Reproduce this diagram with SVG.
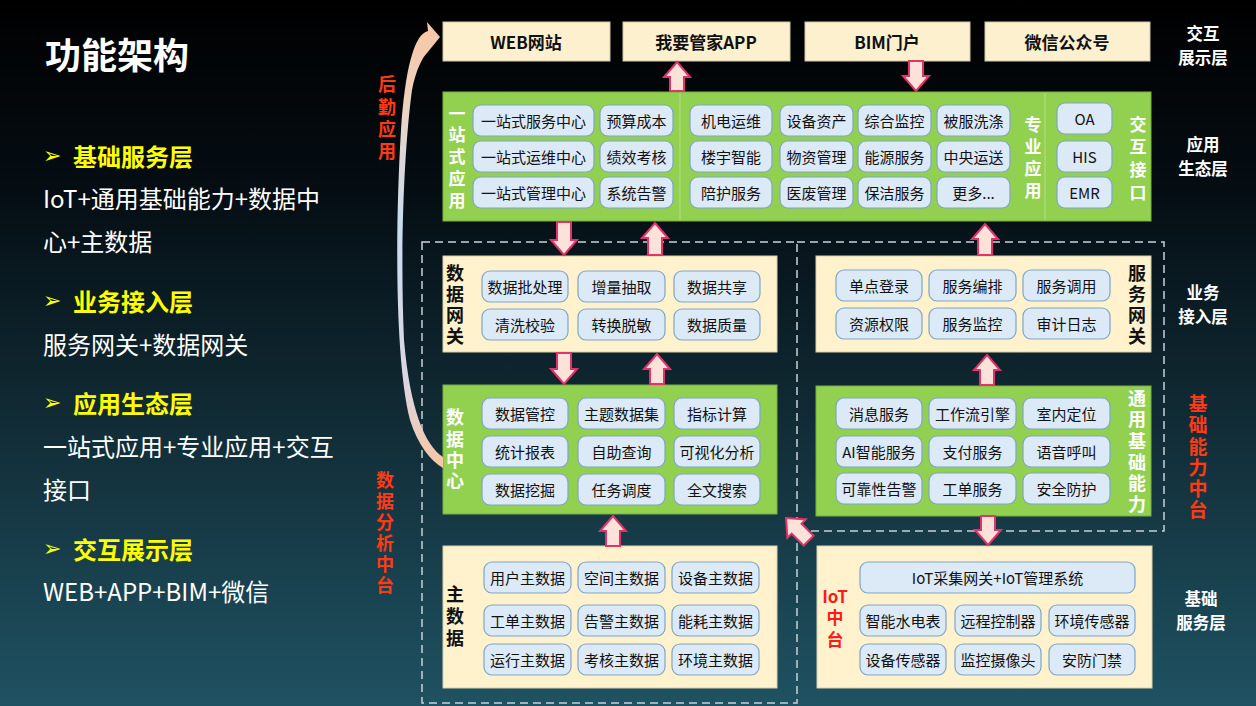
<svg xmlns="http://www.w3.org/2000/svg" width="1256" height="706" viewBox="0 0 1256 706">
<defs>
<linearGradient id="bg" x1="0" y1="0" x2="0" y2="1">
<stop offset="0" stop-color="#000000"/>
<stop offset="0.28" stop-color="#050e14"/>
<stop offset="0.6" stop-color="#112c36"/>
<stop offset="1" stop-color="#1f5262"/>
</linearGradient>
<linearGradient id="curve" gradientUnits="userSpaceOnUse" x1="0" y1="20" x2="0" y2="470">
<stop offset="0" stop-color="#f7c6a3"/>
<stop offset="0.18" stop-color="#efd2c0"/>
<stop offset="0.45" stop-color="#c9dcef"/>
<stop offset="0.8" stop-color="#dcd6e2"/>
<stop offset="1" stop-color="#f7c6a3"/>
</linearGradient>
<style>
.cream{fill:#fff2cc;stroke:#d9cfae;stroke-width:1}
.top{fill:#fdf0cf;stroke:#cfc6a8;stroke-width:1}
.green{fill:#92d050;stroke:#7bb23f;stroke-width:1}
.pill{fill:#dce9f6;stroke:#7fa5c8;stroke-width:1.2}
.pt{font-family:"Noto Sans CJK SC","Liberation Sans",sans-serif;font-size:15px;fill:#111;text-anchor:middle;dominant-baseline:central}
.tt{font-family:"Noto Sans CJK SC","Liberation Sans",sans-serif;font-size:17px;font-weight:bold;fill:#111;text-anchor:middle;dominant-baseline:central}
.v{font-family:"Noto Sans CJK SC","Liberation Sans",sans-serif;font-weight:bold;writing-mode:vertical-rl;text-anchor:middle;dominant-baseline:central}
.vw{fill:#ffffff;font-size:17px}
.vb{fill:#111;font-size:18px}
.vr{fill:#ff3a14;font-size:18px}
.iot{font-family:"Noto Sans CJK SC","Liberation Sans",sans-serif;font-size:17px;font-weight:bold;fill:#ff1a1a;text-anchor:middle;dominant-baseline:central}
.lay{font-family:"Noto Sans CJK SC","Liberation Sans",sans-serif;font-size:16.5px;font-weight:bold;fill:#ffffff;text-anchor:middle;dominant-baseline:central}
.title{font-family:"Noto Sans CJK SC","Liberation Sans",sans-serif;font-size:36px;font-weight:bold;fill:#ffffff;dominant-baseline:central}
.hd{font-family:"Noto Sans CJK SC","Liberation Sans",sans-serif;font-size:24px;font-weight:bold;fill:#ffff00;dominant-baseline:central}
.bd{font-family:"Noto Sans CJK SC","Liberation Sans",sans-serif;font-size:24px;fill:#ffffff;dominant-baseline:central}
.bul{font-family:"DejaVu Sans",sans-serif;font-size:22px;fill:#ffff00;dominant-baseline:central}
.arr{fill:#fde2da;stroke:#e4336a;stroke-width:2;stroke-linejoin:miter}
.dash{fill:none;stroke:#c9d1d6;stroke-width:1.5;stroke-dasharray:8 5}
.div{stroke:#b6e08c;stroke-width:1}
</style>
</defs>
<rect x="0" y="0" width="1256" height="706" fill="url(#bg)"/>

<g id="left-text">
<text class="title" x="45" y="53">功能架构</text>
<text class="bul" x="43" y="155">➢</text>
<text class="hd" x="73" y="155">基础服务层</text>
<text class="bd" x="43" y="197">IoT+通用基础能力+数据中</text>
<text class="bd" x="43" y="240">心+主数据</text>
<text class="bul" x="43" y="300">➢</text>
<text class="hd" x="73" y="300">业务接入层</text>
<text class="bd" x="43" y="343">服务网关+数据网关</text>
<text class="bul" x="43" y="402">➢</text>
<text class="hd" x="73" y="402">应用生态层</text>
<text class="bd" x="43" y="445">一站式应用+专业应用+交互</text>
<text class="bd" x="43" y="488">接口</text>
<text class="bul" x="43" y="548">➢</text>
<text class="hd" x="73" y="548">交互展示层</text>
<text class="bd" x="43" y="590">WEB+APP+BIM+微信</text>
</g>

<g id="side-labels">
<text class="v vr" x="387" y="120" style="letter-spacing:4.3px">后勤应用</text>
<text class="v vr" x="385" y="534" style="letter-spacing:3px">数据分析中台</text>
<text class="v vr" x="1198" y="458" style="font-size:19px;letter-spacing:2.2px">基础能力中台</text>
<text class="lay" x="1203" y="33">交互</text>
<text class="lay" x="1203" y="57">展示层</text>
<text class="lay" x="1203" y="144">应用</text>
<text class="lay" x="1203" y="168">生态层</text>
<text class="lay" x="1203" y="292">业务</text>
<text class="lay" x="1203" y="316">接入层</text>
<text class="lay" x="1201" y="598">基础</text>
<text class="lay" x="1201" y="622">服务层</text>
</g>

<g id="regions">
<path class="dash" d="M422,242 H797 V703 H422 Z"/>
<path class="dash" d="M797,242 H1164 V531 H797"/>
</g>

<g id="display-web"><rect class="top" x="443" y="22" width="167" height="39"/><text class="tt" x="526" y="41">WEB网站</text></g>
<g id="display-app"><rect class="top" x="623" y="22" width="167" height="39"/><text class="tt" x="706" y="41">我要管家APP</text></g>
<g id="display-bim"><rect class="top" x="805" y="22" width="165" height="39"/><text class="tt" x="887" y="41">BIM门户</text></g>
<g id="display-wechat"><rect class="top" x="985" y="22" width="165" height="39"/><text class="tt" x="1067" y="41">微信公众号</text></g>

<g id="app-ecology">
<rect class="green" x="443" y="92" width="708" height="129"/>
<line class="div" x1="680" y1="93" x2="680" y2="220"/>
<line class="div" x1="1045" y1="93" x2="1045" y2="220"/>
<text class="v vw" x="457" y="159" style="letter-spacing:4.7px">一站式应用</text>
<rect class="pill" x="473" y="105" width="121" height="31" rx="8"/><text class="pt" x="533.5" y="120.5">一站式服务中心</text>
<rect class="pill" x="600" y="105" width="73" height="31" rx="8"/><text class="pt" x="636.5" y="120.5">预算成本</text>
<rect class="pill" x="473" y="141" width="121" height="31" rx="8"/><text class="pt" x="533.5" y="156.5">一站式运维中心</text>
<rect class="pill" x="600" y="141" width="73" height="31" rx="8"/><text class="pt" x="636.5" y="156.5">绩效考核</text>
<rect class="pill" x="473" y="177" width="121" height="31" rx="8"/><text class="pt" x="533.5" y="192.5">一站式管理中心</text>
<rect class="pill" x="600" y="177" width="73" height="31" rx="8"/><text class="pt" x="636.5" y="192.5">系统告警</text>

<rect class="pill" x="690" y="105" width="82" height="31" rx="8"/><text class="pt" x="731" y="120.5">机电运维</text>
<rect class="pill" x="780" y="105" width="73" height="31" rx="8"/><text class="pt" x="816.5" y="120.5">设备资产</text>
<rect class="pill" x="858" y="105" width="73" height="31" rx="8"/><text class="pt" x="894.5" y="120.5">综合监控</text>
<rect class="pill" x="937" y="105" width="73" height="31" rx="8"/><text class="pt" x="973.5" y="120.5">被服洗涤</text>
<rect class="pill" x="690" y="141" width="82" height="31" rx="8"/><text class="pt" x="731" y="156.5">楼宇智能</text>
<rect class="pill" x="780" y="141" width="73" height="31" rx="8"/><text class="pt" x="816.5" y="156.5">物资管理</text>
<rect class="pill" x="858" y="141" width="73" height="31" rx="8"/><text class="pt" x="894.5" y="156.5">能源服务</text>
<rect class="pill" x="937" y="141" width="73" height="31" rx="8"/><text class="pt" x="973.5" y="156.5">中央运送</text>
<rect class="pill" x="690" y="177" width="82" height="31" rx="8"/><text class="pt" x="731" y="192.5">陪护服务</text>
<rect class="pill" x="780" y="177" width="73" height="31" rx="8"/><text class="pt" x="816.5" y="192.5">医废管理</text>
<rect class="pill" x="858" y="177" width="73" height="31" rx="8"/><text class="pt" x="894.5" y="192.5">保洁服务</text>
<rect class="pill" x="937" y="177" width="73" height="31" rx="8"/><text class="pt" x="973.5" y="192.5">更多...</text>
<text class="v vw" x="1033" y="160" style="letter-spacing:5px">专业应用</text>

<rect class="pill" x="1057" y="103" width="55" height="31" rx="8"/><text class="pt" x="1084.5" y="118.5">OA</text>
<rect class="pill" x="1057" y="141" width="55" height="31" rx="8"/><text class="pt" x="1084.5" y="156.5">HIS</text>
<rect class="pill" x="1057" y="177" width="55" height="31" rx="8"/><text class="pt" x="1084.5" y="192.5">EMR</text>
<text class="v vw" x="1138" y="161" style="letter-spacing:5.7px">交互接口</text>
</g>

<g id="data-gateway">
<rect class="cream" x="443" y="256" width="334" height="96"/>
<text class="v vb" x="455" y="306" style="letter-spacing:3px">数据网关</text>
<rect class="pill" x="482" y="271" width="86" height="31" rx="8"/><text class="pt" x="525" y="286.5">数据批处理</text>
<rect class="pill" x="578" y="271" width="87" height="31" rx="8"/><text class="pt" x="621.5" y="286.5">增量抽取</text>
<rect class="pill" x="674" y="271" width="86" height="31" rx="8"/><text class="pt" x="717" y="286.5">数据共享</text>
<rect class="pill" x="482" y="309" width="86" height="31" rx="8"/><text class="pt" x="525" y="324.5">清洗校验</text>
<rect class="pill" x="578" y="309" width="87" height="31" rx="8"/><text class="pt" x="621.5" y="324.5">转换脱敏</text>
<rect class="pill" x="674" y="309" width="86" height="31" rx="8"/><text class="pt" x="717" y="324.5">数据质量</text>
</g>

<g id="data-center">
<rect class="green" x="443" y="385" width="334" height="129"/>
<text class="v vw" x="455" y="451" style="font-size:18px;letter-spacing:3.3px">数据中心</text>
<rect class="pill" x="482" y="398" width="86" height="31" rx="8"/><text class="pt" x="525" y="413.5">数据管控</text>
<rect class="pill" x="578" y="398" width="87" height="31" rx="8"/><text class="pt" x="621.5" y="413.5">主题数据集</text>
<rect class="pill" x="674" y="398" width="86" height="31" rx="8"/><text class="pt" x="717" y="413.5">指标计算</text>
<rect class="pill" x="482" y="436" width="86" height="31" rx="8"/><text class="pt" x="525" y="451.5">统计报表</text>
<rect class="pill" x="578" y="436" width="87" height="31" rx="8"/><text class="pt" x="621.5" y="451.5">自助查询</text>
<rect class="pill" x="674" y="436" width="86" height="31" rx="8"/><text class="pt" x="717" y="451.5">可视化分析</text>
<rect class="pill" x="482" y="474" width="86" height="31" rx="8"/><text class="pt" x="525" y="489.5">数据挖掘</text>
<rect class="pill" x="578" y="474" width="87" height="31" rx="8"/><text class="pt" x="621.5" y="489.5">任务调度</text>
<rect class="pill" x="674" y="474" width="86" height="31" rx="8"/><text class="pt" x="717" y="489.5">全文搜索</text>
</g>

<g id="master-data">
<rect class="cream" x="443" y="546" width="334" height="142"/>
<text class="v vb" x="455" y="618" style="letter-spacing:4px">主数据</text>
<rect class="pill" x="484" y="562" width="87" height="31" rx="8"/><text class="pt" x="527.5" y="577.5">用户主数据</text>
<rect class="pill" x="578" y="562" width="87" height="31" rx="8"/><text class="pt" x="621.5" y="577.5">空间主数据</text>
<rect class="pill" x="672" y="562" width="87" height="31" rx="8"/><text class="pt" x="715.5" y="577.5">设备主数据</text>
<rect class="pill" x="484" y="605" width="87" height="31" rx="8"/><text class="pt" x="527.5" y="620.5">工单主数据</text>
<rect class="pill" x="578" y="605" width="87" height="31" rx="8"/><text class="pt" x="621.5" y="620.5">告警主数据</text>
<rect class="pill" x="672" y="605" width="87" height="31" rx="8"/><text class="pt" x="715.5" y="620.5">能耗主数据</text>
<rect class="pill" x="484" y="644" width="87" height="31" rx="8"/><text class="pt" x="527.5" y="659.5">运行主数据</text>
<rect class="pill" x="578" y="644" width="87" height="31" rx="8"/><text class="pt" x="621.5" y="659.5">考核主数据</text>
<rect class="pill" x="672" y="644" width="87" height="31" rx="8"/><text class="pt" x="715.5" y="659.5">环境主数据</text>
</g>

<g id="service-gateway">
<rect class="cream" x="816" y="256" width="335" height="96"/>
<text class="v vb" x="1137" y="306" style="letter-spacing:3px">服务网关</text>
<rect class="pill" x="836" y="270" width="86" height="31" rx="8"/><text class="pt" x="879" y="285.5">单点登录</text>
<rect class="pill" x="929" y="270" width="87" height="31" rx="8"/><text class="pt" x="972.5" y="285.5">服务编排</text>
<rect class="pill" x="1023" y="270" width="87" height="31" rx="8"/><text class="pt" x="1066.5" y="285.5">服务调用</text>
<rect class="pill" x="836" y="308" width="86" height="31" rx="8"/><text class="pt" x="879" y="323.5">资源权限</text>
<rect class="pill" x="929" y="308" width="87" height="31" rx="8"/><text class="pt" x="972.5" y="323.5">服务监控</text>
<rect class="pill" x="1023" y="308" width="87" height="31" rx="8"/><text class="pt" x="1066.5" y="323.5">审计日志</text>
</g>

<g id="general-capability">
<rect class="green" x="816" y="386" width="335" height="130"/>
<text class="v vw" x="1137" y="453" style="font-size:18px;letter-spacing:3.2px">通用基础能力</text>
<rect class="pill" x="836" y="398" width="86" height="31" rx="8"/><text class="pt" x="879" y="413.5">消息服务</text>
<rect class="pill" x="929" y="398" width="87" height="31" rx="8"/><text class="pt" x="972.5" y="413.5">工作流引擎</text>
<rect class="pill" x="1023" y="398" width="87" height="31" rx="8"/><text class="pt" x="1066.5" y="413.5">室内定位</text>
<rect class="pill" x="836" y="436" width="86" height="31" rx="8"/><text class="pt" x="879" y="451.5">AI智能服务</text>
<rect class="pill" x="929" y="436" width="87" height="31" rx="8"/><text class="pt" x="972.5" y="451.5">支付服务</text>
<rect class="pill" x="1023" y="436" width="87" height="31" rx="8"/><text class="pt" x="1066.5" y="451.5">语音呼叫</text>
<rect class="pill" x="836" y="473" width="86" height="31" rx="8"/><text class="pt" x="879" y="488.5">可靠性告警</text>
<rect class="pill" x="929" y="473" width="87" height="31" rx="8"/><text class="pt" x="972.5" y="488.5">工单服务</text>
<rect class="pill" x="1023" y="473" width="87" height="31" rx="8"/><text class="pt" x="1066.5" y="488.5">安全防护</text>
</g>

<g id="iot-platform">
<rect class="cream" x="817" y="546" width="335" height="142"/>
<text class="iot" x="835" y="595">IoT</text>
<text class="v iot" x="835" y="631" style="letter-spacing:5px">中台</text>
<rect class="pill" x="860" y="562" width="275" height="31" rx="8"/><text class="pt" x="997.5" y="577.5">IoT采集网关+IoT管理系统</text>
<rect class="pill" x="860" y="605" width="86" height="31" rx="8"/><text class="pt" x="903" y="620.5">智能水电表</text>
<rect class="pill" x="955" y="605" width="86" height="31" rx="8"/><text class="pt" x="998" y="620.5">远程控制器</text>
<rect class="pill" x="1049" y="605" width="86" height="31" rx="8"/><text class="pt" x="1092" y="620.5">环境传感器</text>
<rect class="pill" x="860" y="644" width="86" height="31" rx="8"/><text class="pt" x="903" y="659.5">设备传感器</text>
<rect class="pill" x="955" y="644" width="86" height="31" rx="8"/><text class="pt" x="998" y="659.5">监控摄像头</text>
<rect class="pill" x="1049" y="644" width="86" height="31" rx="8"/><text class="pt" x="1092" y="659.5">安防门禁</text>
</g>

<g id="connectors">
<path class="arr" d="M677,62 L690,77 L684,77 L684,91 L670,91 L670,77 L664,77 Z"/>
<path class="arr" d="M909,61 L923,61 L923,76 L929,76 L916,91 L903,76 L909,76 Z"/>
<path class="arr" d="M557,222 L571,222 L571,240 L577,240 L564,255 L551,240 L557,240 Z"/>
<path class="arr" d="M655,223 L668,238 L662,238 L662,255 L648,255 L648,238 L642,238 Z"/>
<path class="arr" d="M985,224 L998,239 L992,239 L992,255 L978,255 L978,239 L972,239 Z"/>
<path class="arr" d="M557,353 L571,353 L571,369 L577,369 L564,384 L551,369 L557,369 Z"/>
<path class="arr" d="M657,354 L670,369 L664,369 L664,384 L650,384 L650,369 L644,369 Z"/>
<path class="arr" d="M987,355 L1000,370 L994,370 L994,385 L980,385 L980,370 L974,370 Z"/>
<path class="arr" d="M613,516 L626,531 L620,531 L620,546 L606,546 L606,531 L600,531 Z"/>
<path class="arr" d="M981,516 L995,516 L995,530 L1001,530 L988,545 L975,530 L981,530 Z"/>
<path class="arr" transform="translate(786,518) rotate(-45)" d="M0,0 L13,15 L7,15 L7,32 L-7,32 L-7,15 L-13,15 Z"/>
<path fill="url(#curve)" d="M440,37 L427,22 L428,31 C414,34 405,70 401,130 C395,230 395,360 410,420 C418,445 430,460 443,468 L443,457 C425,445 410,410 404,340 C400,250 404,150 412,90 C416,70 422,58 427,53 Z"/>
</g>
</svg>
